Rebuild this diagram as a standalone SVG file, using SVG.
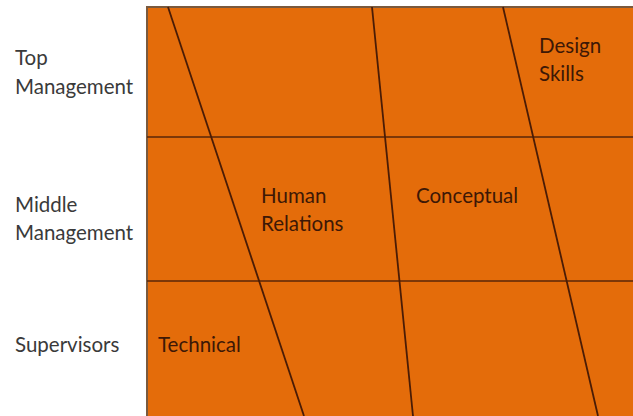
<svg xmlns="http://www.w3.org/2000/svg" width="633" height="416" viewBox="0 0 633 416">
<style>
.lbl{font-family:Lato,"Liberation Sans",sans-serif;font-size:20.5px;fill:#3a3a3a}
.in{font-family:Lato,"Liberation Sans",sans-serif;font-size:20.5px;fill:#3d1806}
.grid{stroke:#4a1c06;stroke-width:1.8;fill:none}
.hl{stroke:#5a2608;stroke-width:1.6;fill:none}
</style>
<rect x="0" y="0" width="633" height="416" fill="#ffffff"/>
<g id="board">
<rect x="147" y="7" width="490" height="414" fill="#E46C0A" stroke="#7a5a3e" stroke-width="2"/>
</g>
<g id="connectors">
<line class="hl" x1="147" y1="137" x2="633" y2="137"/>
<line class="hl" x1="147" y1="281" x2="633" y2="281"/>
<line class="grid" x1="168" y1="7" x2="304" y2="416"/>
<line class="grid" x1="372" y1="7" x2="413" y2="416"/>
<line class="grid" x1="503" y1="7" x2="598" y2="416"/>
</g>
<g id="top-management"><text class="lbl" x="15" y="65">Top</text><text class="lbl" x="15" y="94">Management</text></g>
<g id="middle-management"><text class="lbl" x="15" y="212">Middle</text><text class="lbl" x="15" y="240">Management</text></g>
<g id="supervisors"><text class="lbl" x="15" y="352">Supervisors</text></g>
<g id="technical"><text class="in" x="158" y="352">Technical</text></g>
<g id="human-relations"><text class="in" x="261" y="203">Human</text><text class="in" x="261" y="231">Relations</text></g>
<g id="conceptual"><text class="in" x="416" y="203">Conceptual</text></g>
<g id="design-skills"><text class="in" x="539" y="53">Design</text><text class="in" x="539" y="81">Skills</text></g>
</svg>
